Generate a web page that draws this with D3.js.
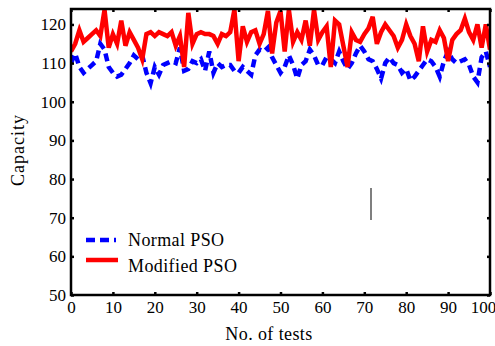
<!DOCTYPE html>
<html><head><meta charset="utf-8">
<script src="https://cdn.jsdelivr.net/npm/d3@7"></script>
<style>body{margin:0;background:#fff}svg{display:block}text{font-family:"Liberation Serif","Times New Roman",serif}</style>
</head><body><svg id="c" width="495" height="346"></svg>
<script>
const xTicks = [0,10,20,30,40,50,60,70,80,90,100];
const yTicks = [50,60,70,80,90,100,110,120];
const seriesNames = ["Normal PSO","Modified PSO"];
const normalPSO = [110,112.5,109,107.5,108.5,109.5,110.5,115,113.5,109,107.5,106.5,107,108.5,110,112,111,112,107.5,104.8,
109,107,109.5,110,110.5,110,114,108,108.5,110.5,110,111,108,113,107.5,110,109,109.5,109.5,108,
107.5,109,108,107,112,113.5,113,114,111.5,109.5,107.5,109,112,109.5,106,109.5,110.5,113.5,112,109.5,
109.5,111.5,111,110,113,110.5,108.5,110,112.5,114.5,113,111,110.5,108.5,106,110,111.5,110,109.5,107.5,
108.5,105.5,106.5,108,109.5,111,110.5,109,106.5,110.5,113,111,110,110.5,111,109.5,106.5,105,111.5,113,109];
const modifiedPSO = [113,115,118.5,115.5,116.5,117.5,118.5,117,123.8,114,117.5,115,121,114.5,118,116,114,111,117.5,118,
117,118,117.5,117,118,114.5,117,109,123,115,117.5,118,117.5,117.5,117,115,117.5,117,118,123.8,
110.5,119.5,115.5,118,118.5,115,117.5,123.5,112.5,120.5,123.5,113,123.8,115.5,118,116,121,114.5,123.8,116,
118,119.5,109,121,120,114.5,109,118,116,115.5,117.5,119,122,115,118,120,118.5,117,114,116,
120,117,115,110.5,119.5,113,116,115.5,118.5,116.5,110.5,116,117.5,118.5,121.5,118,116,120,114,120,113.5];

const svg = d3.select("#c");
const L=71,R=490,T=9,B=295;
const x = d3.scaleLinear().domain([0,100]).range([L,R]);
const y = d3.scaleLinear().domain([50,124]).range([B,T]);

svg.append("defs").append("clipPath").attr("id","clip").append("rect")
  .attr("x",L).attr("y",T).attr("width",R-L).attr("height",B-T);

const line = d3.line().x((d,i)=>x(i)).y(d=>y(d));
const g = svg.append("g").attr("clip-path","url(#clip)");
g.append("path").datum(normalPSO).attr("d",line).attr("fill","none")
  .attr("stroke","#0000ff").attr("stroke-width",4.5).attr("stroke-dasharray","8,5");
g.append("path").datum(modifiedPSO).attr("d",line).attr("fill","none")
  .attr("stroke","#ff0000").attr("stroke-width",4.5).attr("stroke-linejoin","miter");

// axes
const fs = 17;
const xa = svg.append("g").attr("transform",`translate(0,${B})`)
  .call(d3.axisBottom(x).tickValues(xTicks).tickSize(-3).tickPadding(8));
xa.select(".domain").remove();
xa.selectAll("line").attr("stroke","#000").attr("stroke-width",2.5);
xa.selectAll("text").attr("font-size",fs).attr("fill","#000").attr("dy","0.6em")
  .attr("dx",d=>d===100?-7:0);
const xt = svg.append("g").attr("transform",`translate(0,${T})`)
  .call(d3.axisTop(x).tickValues(xTicks).tickSize(-3).tickFormat(""));
xt.select(".domain").remove();
xt.selectAll("line").attr("stroke","#000").attr("stroke-width",2.5);

const ya = svg.append("g").attr("transform",`translate(${L},0)`)
  .call(d3.axisLeft(y).tickValues(yTicks).tickSize(-3).tickPadding(5));
ya.select(".domain").remove();
ya.selectAll("line").attr("stroke","#000").attr("stroke-width",2.5);
ya.selectAll("text").attr("font-size",fs).attr("fill","#000");
const yr = svg.append("g").attr("transform",`translate(${R},0)`)
  .call(d3.axisRight(y).tickValues(yTicks).tickSize(-3).tickFormat(""));
yr.select(".domain").remove();
yr.selectAll("line").attr("stroke","#000").attr("stroke-width",2.5);

svg.append("rect").attr("x",L).attr("y",T).attr("width",R-L).attr("height",B-T)
  .attr("fill","none").attr("stroke","#000").attr("stroke-width",2.5);

const tfs = 18;
svg.append("text").attr("x",269).attr("y",340).attr("text-anchor","middle")
  .attr("font-size",tfs).attr("letter-spacing","0.4px").text("No. of tests");
svg.append("text").attr("transform","translate(24,150) rotate(-90)").attr("text-anchor","middle")
  .attr("font-size",tfs).attr("letter-spacing","1px").text("Capacity");

// legend
const leg = svg.append("g");
const legY = [240,260];
leg.append("line").attr("x1",86).attr("x2",116).attr("y1",legY[0]).attr("y2",legY[0])
  .attr("stroke","#0000ff").attr("stroke-width",4.5).attr("stroke-dasharray","9,5");
leg.append("line").attr("x1",86).attr("x2",118).attr("y1",legY[1]).attr("y2",legY[1])
  .attr("stroke","#ff0000").attr("stroke-width",4.5);
seriesNames.forEach((n,i)=>{
  leg.append("text").attr("x",128).attr("y",[246,272][i]).attr("font-size",tfs)
    .attr("letter-spacing","0.4px").text(n);
});

// stray annotation mark
svg.append("line").attr("x1",371).attr("x2",371).attr("y1",188).attr("y2",220)
  .attr("stroke","#555").attr("stroke-width",1.5);
</script></body></html>
